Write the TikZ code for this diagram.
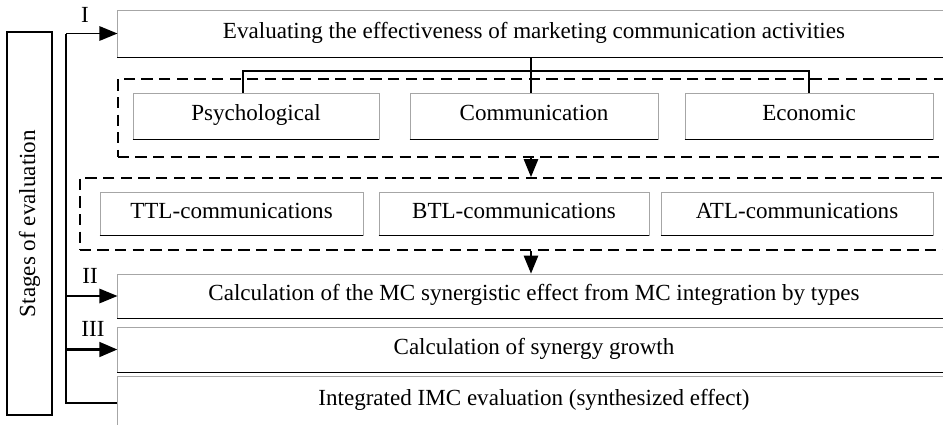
\documentclass[tikz,border=0pt]{standalone}
\usepackage{fontspec}
\setmainfont{Liberation Serif}
\usetikzlibrary{arrows.meta}

\begin{document}
\begin{tikzpicture}[
    x=0.025cm,y=-0.025cm,
    font=\fontsize{16.4}{19}\selectfont,
    stagebox/.style={draw=black!35,line width=0.6pt,align=center,inner sep=0pt,text height=1.75ex,text depth=0.3ex},
    grpbox/.style={draw,dashed,line width=1.3pt,dash pattern=on 0.28cm off 0.16cm,inner sep=0pt},
    arr/.style={-{Triangle[length=0.45cm,width=0.36cm]},line width=1.1pt},
    lbl/.style={font=\fontsize{16.4}{19}\selectfont}
  ]
    \useasboundingbox (0,0) rectangle (943,424);
    \clip (0,0) rectangle (943,424);

    \node[draw,line width=1pt,rotate=90,minimum width=9.575cm,minimum height=1.125cm] (stages) at (29.5,223.5) {Stages of evaluation};

    \node[stagebox,minimum width=20.8cm,minimum height=1.175cm] (top) at (534,33.5) {Evaluating the effectiveness of marketing communication activities};
    \node[grpbox,minimum width=20.8cm,minimum height=1.95cm] (ev) at (534,118) {};
    \node[stagebox,minimum width=6.15cm,minimum height=1.15cm] (psy) at (256,116) {Psychological};
    \node[stagebox,minimum width=6.2cm,minimum height=1.15cm] (com) at (534,116) {Communication};
    \node[stagebox,minimum width=6.2cm,minimum height=1.15cm] (eco) at (809,116) {Economic};

    \node[grpbox,minimum width=21.75cm,minimum height=1.8cm] (tl) at (515,214) {};
    \node[stagebox,minimum width=6.575cm,minimum height=1.075cm] (ttl) at (231.5,213.5) {TTL-communications};
    \node[stagebox,minimum width=6.75cm,minimum height=1.075cm] (btl) at (514,213.5) {BTL-communications};
    \node[stagebox,minimum width=6.8cm,minimum height=1.075cm] (atl) at (797,213.5) {ATL-communications};

    \node[stagebox,minimum width=20.8cm,minimum height=1.1cm] (mcs) at (534,296) {Calculation of the MC synergistic effect from MC integration by types};
    \node[stagebox,minimum width=20.8cm,minimum height=1.125cm] (syn) at (534,349.5) {Calculation of synergy growth};
    \node[stagebox,minimum width=20.8cm,minimum height=1.25cm] (imc) at (534,401) {Integrated IMC evaluation (synthesized effect)};

    \foreach \n in {top,psy,com,eco,ttl,btl,atl,mcs,syn}
      \draw[line width=0.9pt] (\n.south west) -- (\n.south east);

    \coordinate (br) at (531,71);
    \draw[line width=1.1pt] (top.south -| br) -- (br);
    \draw[line width=1.1pt] ([xshift=-0.32cm]psy.north) |- (br) -| (eco.north);
    \draw[line width=1.1pt] (br) -- (com.north -| br);
    \draw[arr] (ev.south -| br) -- (tl.north -| br);
    \draw[arr] (tl.south -| br) -- (mcs.north -| br);

    \coordinate (s1) at (66,33.5);
    \coordinate (s2) at (66,296);
    \coordinate (s3) at (66,349.5);
    \coordinate (s4) at (66,403);
    \draw[line width=1.2pt] (s1) -- (s4) -- (imc.west |- s4);
    \draw[arr] (s1) -- (top.west);
    \draw[arr] (s2) -- (mcs.west);
    \draw[arr,line width=2.2pt] (s3) -- (syn.west);

    \node[lbl] (l1) at (85,15) {I};
    \node[lbl] (l2) at (90,276) {II};
    \node[lbl] (l3) at (93,329) {III};
  \end{tikzpicture}
\end{document}
